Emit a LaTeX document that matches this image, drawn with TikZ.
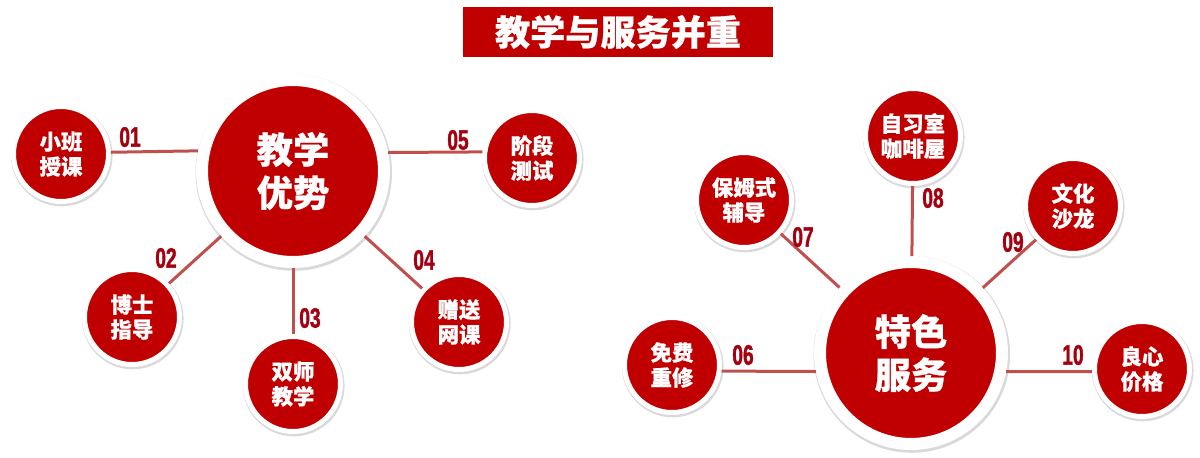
\documentclass[tikz,border=0pt]{standalone}
\usepackage{fontspec}
\usetikzlibrary{shadows}
\newfontfamily\cjk{Noto Sans CJK SC}[BoldFeatures={FakeBold=0.6}]
\newfontfamily\numfont{Liberation Sans Bold}[FakeStretch=0.68,FakeBold=1.4]
\definecolor{Cmainred}{HTML}{C00000}
\definecolor{Cnumred}{HTML}{A5000F}
\definecolor{Clinkred}{HTML}{C0504D}

\begin{document}
\begin{tikzpicture}[x=0.02cm,y=-0.02cm,
	bigball/.style={circle,fill=Cmainred,draw=white,line width=0.24cm,minimum size=3.64cm,inner sep=0pt,
		drop shadow={shadow xshift=0.4pt,shadow yshift=-0.8pt,shadow scale=1.08,opacity=0.3},
		text=white,align=center,font=\cjk\bfseries\fontsize{20.7}{24.5}\selectfont},
	smallball/.style={circle,fill=Cmainred,draw=white,line width=0.1cm,minimum size=1.9cm,inner sep=0pt,
		drop shadow={shadow xshift=0.4pt,shadow yshift=-0.8pt,shadow scale=1.07,opacity=0.3},
		text=white,align=center,font=\cjk\bfseries\fontsize{12.2}{14.2}\selectfont},
	link/.style={draw=Clinkred,line width=0.06cm},
	numlabel/.style={text=Cnumred,inner sep=0pt,font=\numfont\fontsize{16}{16}\selectfont},
	titlebox/.style={fill=Cmainred,minimum width=6.2cm,minimum height=1cm,inner sep=0pt,
		text=white,font=\cjk\bfseries\fontsize{20}{20}\selectfont}]
		\useasboundingbox (0,0) rectangle (1200,457);
		\node[titlebox] (title) at (618,32) {教学与服务并重};
		% left group
		\node[bigball] (teach) at (293,171) {教学\\优势};
		\node[smallball] (c01) at (61,154) {小班\\授课};
		\node[smallball] (c02) at (132,317) {博士\\指导};
		\node[smallball] (c03) at (293,384) {双师\\教学};
		\node[smallball] (c04) at (459,322) {赠送\\网课};
		\node[smallball] (c05) at (532,158) {阶段\\测试};
		\draw[link] (c01.2) -- (teach.168.7);
		\draw[link] (c02) -- (teach);
		\draw[link] (c03) -- (teach);
		\draw[link] (c04) -- (teach);
		\draw[link] (c05.173) -- (teach.11.3);
		\node[numlabel] (n01) at (130,137) {01};
		\node[numlabel] (n02) at (166,258) {02};
		\node[numlabel] (n03) at (310,318) {03};
		\node[numlabel] (n04) at (424,260) {04};
		\node[numlabel] (n05) at (458,140) {05};
		% right group
		\node[bigball] (serv) at (911,353) {特色\\服务};
		\node[smallball] (c06) at (672,365) {免费\\重修};
		\node[smallball] (c07) at (744,200) {保姆式\\辅导};
		\node[smallball] (c08) at (913,136) {自习室\\咖啡屋};
		\node[smallball] (c09) at (1073,206) {文化\\沙龙};
		\node[smallball] (c10) at (1142,369) {良心\\价格};
		\draw[link] (c06.-7) -- (serv.191);
		\draw[link] (c07) -- (serv);
		\draw[link] (c08) -- (serv);
		\draw[link] (c09) -- (serv);
		\draw[link] (c10.183.5) -- (serv.349);
		\node[numlabel] (n06) at (743,355) {06};
		\node[numlabel] (n07) at (803,237) {07};
		\node[numlabel] (n08) at (933,198) {08};
		\node[numlabel] (n09) at (1013,242) {09};
		\node[numlabel] (n10) at (1073,355) {10};
	\end{tikzpicture}
\end{document}
